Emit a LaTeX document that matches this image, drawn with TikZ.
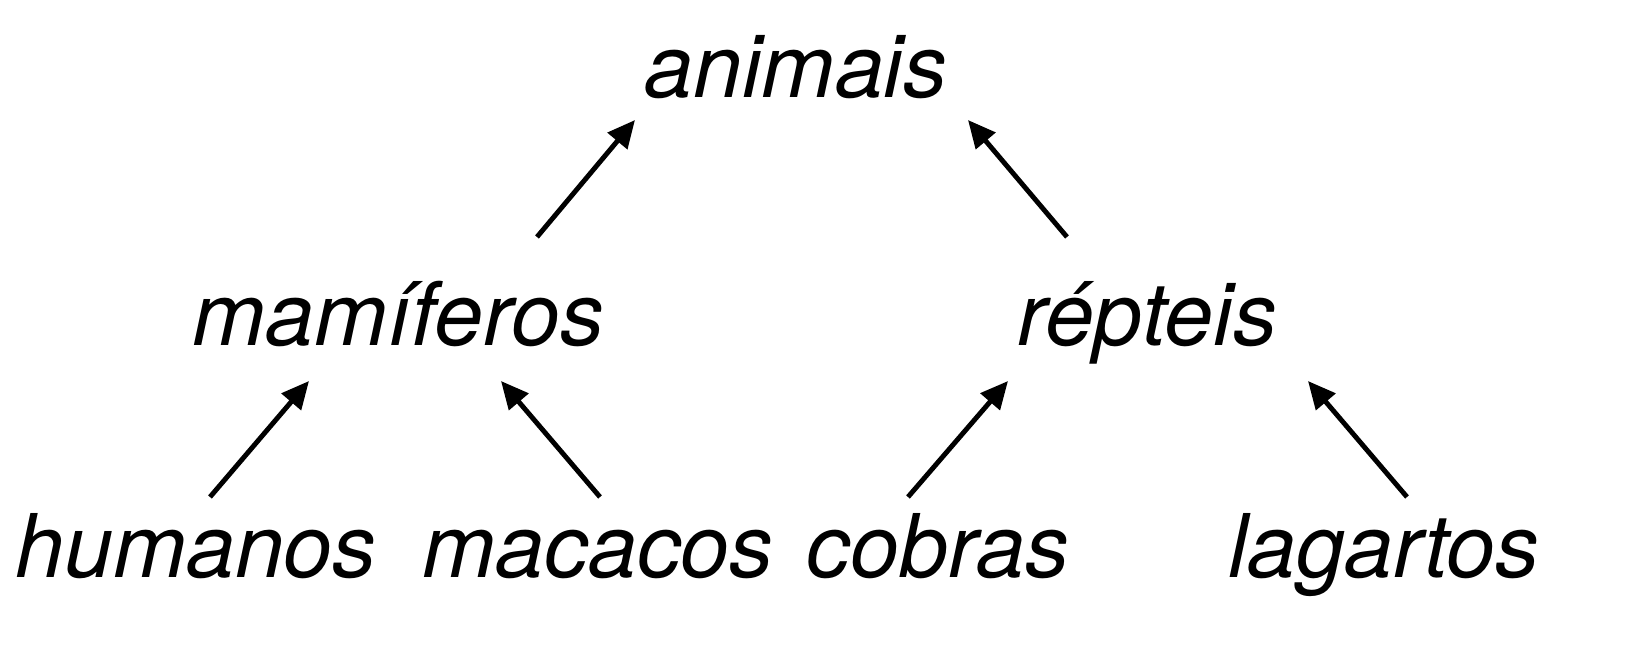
\documentclass[tikz,border=0pt]{standalone}
\usepackage{fontspec}
\setmainfont{TeX Gyre Heros}
\usetikzlibrary{arrows.meta}
\tikzset{
  word/.style={anchor=base, inner sep=0pt, font=\fontsize{50}{60}\selectfont\itshape},
  link/.style={line width=2.8pt, -{Triangle[length=0.55cm,width=0.5cm]}}
}
\begin{document}
\begin{tikzpicture}[x=0.02cm,y=-0.02cm]
	\useasboundingbox (0,0) rectangle (1647,656);
	
	\node[word] (animais) at (796,97) {animais};
	\node[word] (mamiferos) at (398,345) {mamíferos};
	\node[word] (repteis) at (1147,345) {répteis};
	\node[word] (humanos) at (196,577) {humanos};
	\node[word] (macacos) at (598,577) {macacos};
	\node[word] (cobras) at (938,577) {cobras};
	\node[word] (lagartos) at (1384,577) {lagartos};
	
	% arrow ends
	\coordinate (m1) at (537,237); \coordinate (a1) at (635,120);
	\coordinate (r1) at (1067,237); \coordinate (a2) at (968,120);
	\coordinate (h1) at (210,497); \coordinate (m2) at (309,381);
	\coordinate (k1) at (600,497); \coordinate (m3) at (501,381);
	\coordinate (c1) at (908,497); \coordinate (r2) at (1008,381);
	\coordinate (l1) at (1407,497); \coordinate (r3) at (1308,381);
	
	\draw[link] (m1) -- (a1);
	\draw[link] (r1) -- (a2);
	\draw[link] (h1) -- (m2);
	\draw[link] (k1) -- (m3);
	\draw[link] (c1) -- (r2);
	\draw[link] (l1) -- (r3);
\end{tikzpicture}
\end{document}
